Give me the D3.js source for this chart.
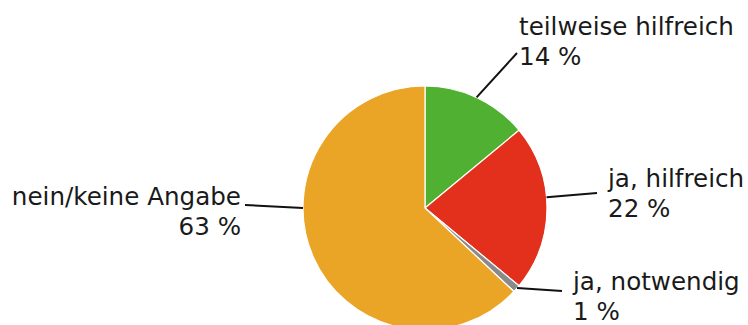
<!DOCTYPE html>
<html>
<head>
<meta charset="utf-8">
<script src="https://cdn.jsdelivr.net/npm/d3@7"></script>
<style>
  html, body { margin: 0; padding: 0; background: #fff; }
  svg { display: block; }
</style>
</head>
<body>
<svg id="chart" width="748" height="325"></svg>
<script>
// ---- data ----
const categories = ["teilweise hilfreich", "ja, hilfreich", "ja, notwendig", "nein/keine Angabe"];
const values = [14, 22, 1, 63];
const valueLabels = ["14 %", "22 %", "1 %", "63 %"];
const colors = ["#50b031", "#e3301d", "#8a8a8a", "#eba526"];

// ---- layout (annotation placement) ----
const leaderAngleDeg = [25, 85, 131, 270];          // where each leader leaves the pie
const leaderEnd = [[517, 53], [597, 193], [562, 291], [245, 205]];
const labelPos = [[519, 35], [608, 187], [573, 290], [241, 205]];
const labelAnchor = ["start", "start", "start", "end"];

const width = 748, height = 325;
const cx = 425, cy = 208, radius = 122;
const fontFamily = "'DejaVu Sans', sans-serif";
const fontSize = 24.6, lineGap = 30;

const svg = d3.select("#chart");
const g = svg.append("g").attr("transform", `translate(${cx},${cy})`);

const pie = d3.pie().sort(null).value(d => d.value);
const arc = d3.arc().innerRadius(0).outerRadius(radius);
const data = categories.map((c, i) => ({ name: c, value: values[i], label: valueLabels[i], color: colors[i], i }));

g.selectAll("path.slice")
  .data(pie(data))
  .join("path")
  .attr("class", "slice")
  .attr("d", arc)
  .attr("fill", d => d.data.color)
  .attr("stroke", "#ffffff")
  .attr("stroke-width", 1.2)
  .attr("stroke-linejoin", "round");

// leader lines
const leaders = svg.append("g");
data.forEach((d, i) => {
  const a = leaderAngleDeg[i] * Math.PI / 180;
  const x0 = cx + radius * Math.sin(a);
  const y0 = cy - radius * Math.cos(a);
  leaders.append("line")
    .attr("x1", x0).attr("y1", y0)
    .attr("x2", leaderEnd[i][0]).attr("y2", leaderEnd[i][1])
    .attr("stroke", "#111")
    .attr("stroke-width", 2);
});

// labels
const labels = svg.append("g")
  .attr("font-family", fontFamily)
  .attr("font-size", fontSize)
  .attr("fill", "#1a1a1a");
data.forEach((d, i) => {
  const t = labels.append("text")
    .attr("x", labelPos[i][0])
    .attr("y", labelPos[i][1])
    .attr("text-anchor", labelAnchor[i]);
  t.append("tspan").attr("x", labelPos[i][0]).text(d.name);
  t.append("tspan").attr("x", labelPos[i][0]).attr("dy", lineGap).text(d.label);
});
</script>
</body>
</html>
